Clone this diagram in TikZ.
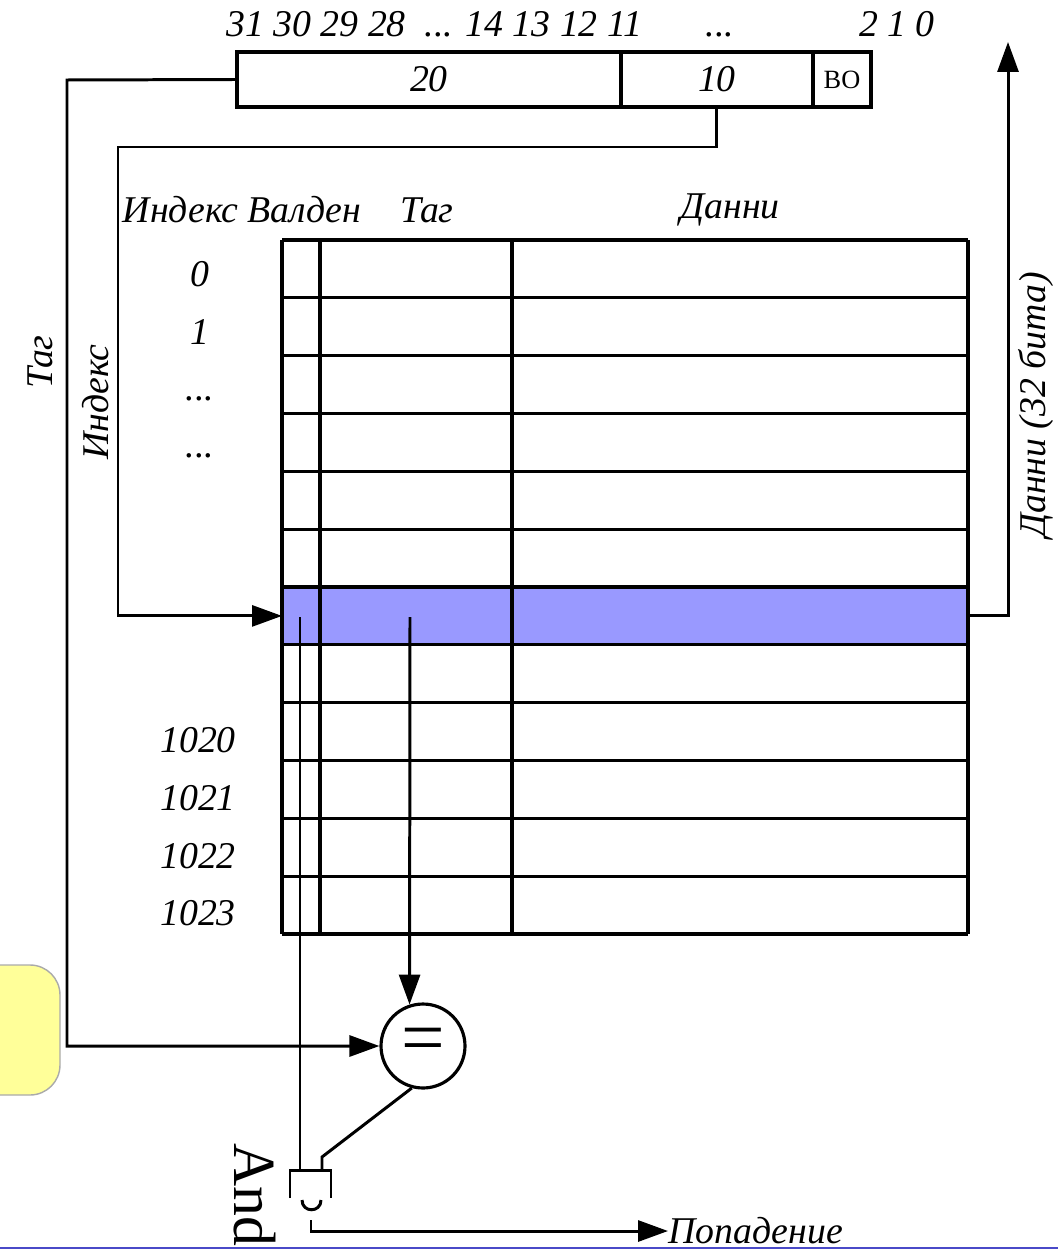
\documentclass[tikz,border=0pt]{standalone}
\usepackage{fontspec}
\setmainfont{Liberation Serif}
\usetikzlibrary{arrows.meta}
\definecolor{hl}{HTML}{9999FF}
\definecolor{note}{HTML}{FFFF99}
\definecolor{notedraw}{HTML}{AAAAAA}
\definecolor{bline}{HTML}{4A4AC8}
\begin{document}
\begin{tikzpicture}[x=0.02cm,y=-0.02cm,
  wire/.style={line width=1.7pt},
  gridline/.style={line width=1.8pt},
  arr/.style={wire,-{Triangle[length=0.6cm,width=0.42cm]}},
  lab/.style={font=\fontsize{21.5}{25}\selectfont\itshape, inner sep=0},
  field/.style={draw, line width=1.8pt, inner sep=0, outer sep=0, minimum height=1.1cm, anchor=north west,
    font=\fontsize{21.5}{25}\selectfont\itshape}]
\useasboundingbox (0,0) rectangle (1058,1250);

% yellow note (cut off at left edge)
\draw[fill=note, draw=notedraw, line width=0.8pt, rounded corners=0.6cm] (-40,965) rectangle (60,1095);

% address bar
\node[field, minimum width=7.68cm] (f20) at (237,52) {20};
\node[field, minimum width=3.84cm] (f10) at (621,52) {10};
\node[field, minimum width=1.16cm, font=\fontsize{15}{17}\selectfont] (fbo) at (813,52) {ВО};

% bit numbers
\node[lab, anchor=base west] (b1) at (226,37) {31 30 29 28 \ ... 14 13 12 11};
\node[lab, anchor=base] (b2) at (720,37) {...};
\node[lab, anchor=base east] (b3) at (935,37) {2 1 0};

% headers
\node[lab] (hidx) at (242,210) {Индекс Валден};
\node[lab] (htag) at (427,210) {Таг};
\node[lab] (hdata) at (730,210) {Данни};

% highlighted row
\node[fill=hl, inner sep=0, outer sep=0, minimum width=13.72cm, minimum height=1.1567cm, anchor=north west] (hrow) at (282,587) {};

% table grid
\foreach \i in {0,...,12} {
  \draw[gridline] (282,{240+\i*57.83}) -- (968,{240+\i*57.83});
}
\foreach \x in {282,320,512,968} {
  \draw[gridline] (\x,240) -- (\x,934);
}

% row labels
\node[lab, anchor=base] (r0) at (200,286) {0};
\node[lab, anchor=base] (r1) at (200,344) {1};
\node[lab, anchor=base] (r2) at (200,400) {...};
\node[lab, anchor=base] (r3) at (200,457) {...};
\node[lab, anchor=base] (r1020) at (198,752) {1020};
\node[lab, anchor=base] (r1021) at (198,810) {1021};
\node[lab, anchor=base] (r1022) at (198,868) {1022};
\node[lab, anchor=base] (r1023) at (198,925) {1023};

% rotated labels
\node[lab, rotate=90] (ltag) at (40,362) {Таг};
\node[lab, rotate=90] (lidx) at (96,402) {Индекс};
\node[lab, rotate=90] (ldata) at (1036,405) {Данни (32 бита)};

% comparator
\node[draw, circle, line width=1.8pt, minimum size=1.68cm, inner sep=0, font=\fontsize{44}{44}\selectfont] (eq) at (423,1046) {=};

% coordinates
\coordinate (tagbend) at (67,80);
\coordinate (idxbend) at (118,147);
\coordinate (dtop) at (1008,42);
\coordinate (vsrc) at (300,617);
\coordinate (tsrc) at (410,617);
\coordinate (gA) at (300,1170);
\coordinate (gB) at (322,1170);
\coordinate (gBk) at (322,1157);
\coordinate (gO) at (311,1220);

% AND gate
\draw[wire] (290,1198) -- (290,1170) -- (331,1170) -- (331,1198);
\draw[wire] (302,1200) .. controls (302,1213) and (321,1213) .. (321,1200);
\node[inner sep=0, font=\fontsize{34}{36}\selectfont, rotate=-90] (andl) at (255,1195) {And};

% output label
\node[lab, anchor=west] (hit) at (668,1231) {Попадение};

% connectors
\draw[arr] (f20.west) -- (tagbend) |- (eq.west);
\draw[arr] (f10.south) |- (idxbend) |- (hrow.west);
\draw[arr] (hrow.east) -| (dtop);
\draw[wire] (vsrc) -- (gA);
\draw[arr] (tsrc) -- (eq.108);
\draw[wire] (eq.255) -- (gBk) -- (gB);
\draw[arr] (gO) |- (hit.west);

% bottom line
\draw[color=bline, line width=1pt] (0,1248) -- (1058,1248);
\end{tikzpicture}
\end{document}
